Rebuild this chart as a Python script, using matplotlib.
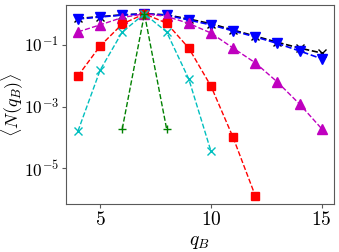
import matplotlib
matplotlib.use("Agg")
import matplotlib.pyplot as plt
import numpy as np

plt.rcParams['mathtext.fontset'] = 'cm'
plt.rcParams['font.family'] = 'serif'
plt.rcParams['font.size'] = 14

# q_B values and <N(q_B)> per series
q_green = [6, 7, 8]
n_green = [1.9e-4, 1.0, 1.9e-4]

q_cyan = [4, 5, 6, 7, 8, 9, 10]
n_cyan = [1.6e-4, 1.5e-2, 0.26, 1.0, 0.26, 7.8e-3, 3.6e-5]

q_red = [4, 5, 6, 7, 8, 9, 10, 11, 12]
n_red = [9.8e-3, 9.1e-2, 0.47, 1.0, 0.50, 7.8e-2, 4.6e-3, 1.0e-4, 1.3e-6]

q_mag = [4, 5, 6, 7, 8, 9, 10, 11, 12, 13, 14, 15]
n_mag = [0.26, 0.44, 0.76, 1.0, 0.83, 0.49, 0.24, 7.8e-2, 2.6e-2, 6.2e-3, 1.2e-3, 1.9e-4]

q_blue = [4, 5, 6, 7, 8, 9, 10, 11, 12, 13, 14, 15]
n_blue = [0.68, 0.79, 0.91, 1.0, 0.91, 0.63, 0.44, 0.28, 0.18, 0.11, 6.3e-2, 3.5e-2]

q_black = [4, 5, 6, 7, 8, 9, 10, 11, 12, 13, 14, 15]
n_black = [0.71, 0.81, 0.93, 1.0, 0.93, 0.68, 0.48, 0.30, 0.19, 0.12, 7.8e-2, 5.4e-2]

x_ticks = [5, 10, 15]
y_ticks = [1e-1, 1e-3, 1e-5]
y_ticklabels = [r'$10^{-1}$', r'$10^{-3}$', r'$10^{-5}$']

fig = plt.figure(figsize=(3.39, 2.52), dpi=100)
ax = fig.add_axes([0.194, 0.19, 0.791, 0.79])

ax.plot(q_black, n_black, 'k--x', ms=6, lw=1.2, mew=1.0)
ax.plot(q_blue, n_blue, 'b--v', ms=6.5, lw=1.2)
ax.plot(q_mag, n_mag, 'm--^', ms=6.5, lw=1.0)
ax.plot(q_red, n_red, 'r--s', ms=6, lw=1.0)
ax.plot(q_cyan, n_cyan, 'c--x', ms=6, lw=1.0, mew=1.0)
ax.plot(q_green, n_green, 'g--+', ms=6, lw=1.0, mew=1.0)

ax.set_yscale('log')
ax.set_xlim(3.45, 15.55)
ax.set_ylim(10**-6.16, 10**0.285)
ax.set_xticks(x_ticks)
ax.set_xticklabels([f'${v}$' for v in x_ticks])
ax.set_yticks(y_ticks)
ax.set_yticklabels(y_ticklabels, fontsize=12.5)
ax.yaxis.set_minor_locator(matplotlib.ticker.NullLocator())
ax.tick_params(length=3, width=0.8, color='0.35', pad=2)
for s in ax.spines.values():
    s.set_color('0.35')

ax.set_xlabel(r'$q_B$', labelpad=3)
ax.set_ylabel(r'$\langle N(q_B)\rangle$', fontsize=13)
ax.yaxis.set_label_coords(-0.148, 0.5)

fig.savefig('out.png', dpi=100)
